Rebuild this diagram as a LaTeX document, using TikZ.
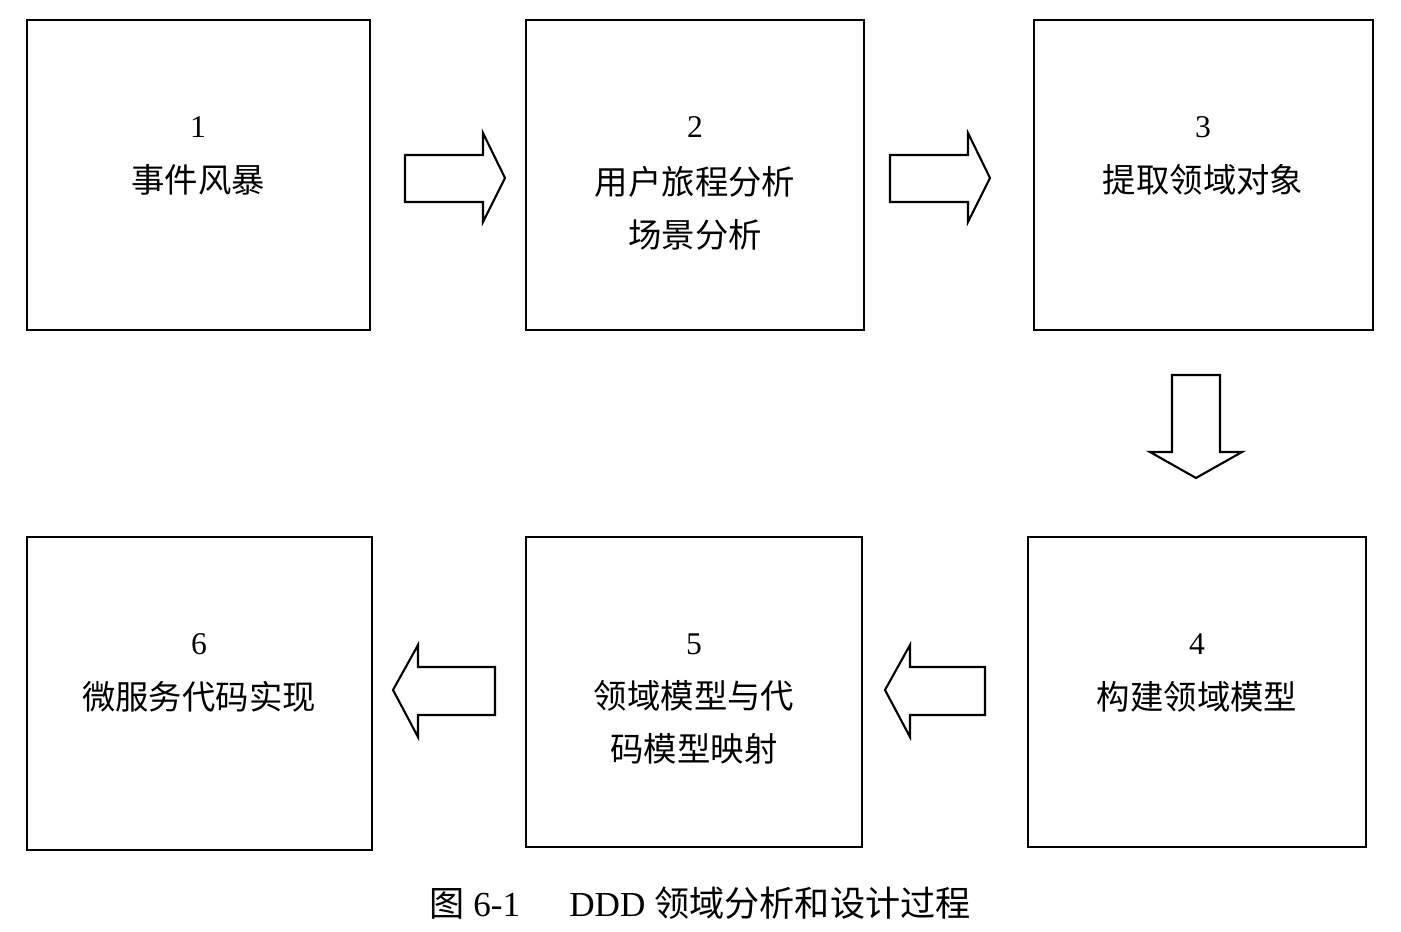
\documentclass[tikz,border=0pt]{standalone}
\usepackage{fontspec}
\setmainfont{Liberation Serif}
\newfontfamily\cjk{Noto Sans CJK SC}
\begin{document}
\begin{tikzpicture}[x=0.02cm,y=-0.02cm,
  box/.style={draw,line width=1.3pt},
  lbl/.style={font=\cjk\fontsize{19}{22}\selectfont,align=center},
  num/.style={font=\fontsize{18}{20}\selectfont},
  barrow/.style={draw,line width=1.2pt,fill=white}]
\useasboundingbox (0,0) rectangle (1401,932);
\draw[box] (27,20) rectangle (370,330);
\draw[box] (526,20) rectangle (864,330);
\draw[box] (1034,20) rectangle (1373,330);
\draw[box] (1028,537) rectangle (1366,847);
\draw[box] (526,537) rectangle (862,847);
\draw[box] (27,537) rectangle (372,850);
\node[num] (n1) at (198,127) {1};
\node[lbl] (t1) at (198,180) {事件风暴};
\node[num] (n2) at (695,127) {2};
\node[lbl] (t2) at (695,208) {用户旅程分析\\[8pt]场景分析};
\node[num] (n3) at (1203,127) {3};
\node[lbl] (t3) at (1203,180) {提取领域对象};
\node[num] (n4) at (1197,644) {4};
\node[lbl] (t4) at (1197,697) {构建领域模型};
\node[num] (n5) at (694,644) {5};
\node[lbl] (t5) at (694,722) {领域模型与代\\[8pt]码模型映射};
\node[num] (n6) at (199,644) {6};
\node[lbl] (t6) at (199,697) {微服务代码实现};
% right arrows
\draw[barrow] (405,155)--(483,155)--(483,133)--(505,178)--(483,222)--(483,202)--(405,202)--cycle;
\draw[barrow] (890,155)--(968,155)--(968,133)--(990,178)--(968,222)--(968,202)--(890,202)--cycle;
% down arrow
\draw[barrow] (1172,375)--(1220,375)--(1220,452)--(1242,452)--(1196,478)--(1150,452)--(1172,452)--cycle;
% left arrows
\draw[barrow] (985,667)--(910,667)--(910,645)--(885,690)--(910,737)--(910,715)--(985,715)--cycle;
\draw[barrow] (495,667)--(418,667)--(418,645)--(393,690)--(418,737)--(418,715)--(495,715)--cycle;
\node[font=\fontsize{20}{22}\selectfont] (cap) at (700,903) {{\cjk 图} 6-1\hspace{1.4em}DDD {\cjk 领域分析和设计过程}};
\end{tikzpicture}
\end{document}
